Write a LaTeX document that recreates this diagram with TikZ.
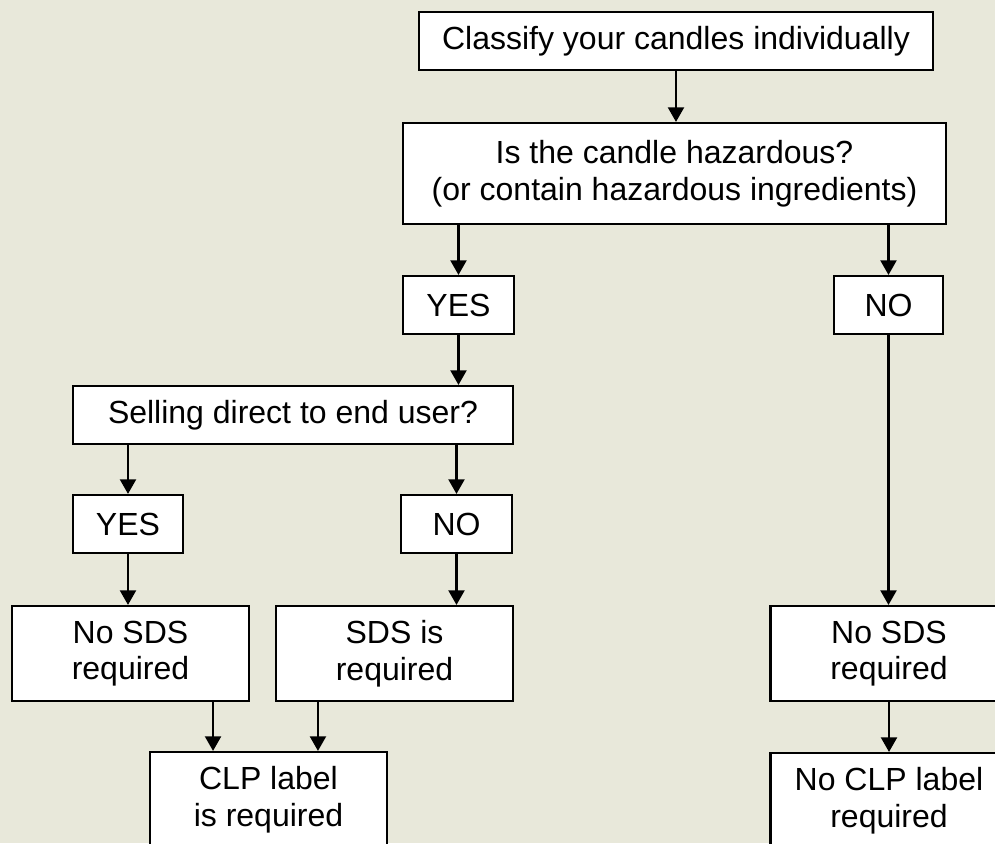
\documentclass[tikz,border=0pt]{standalone}
\usepackage{fontspec}
\setmainfont{Liberation Sans}
\usetikzlibrary{arrows.meta}
\definecolor{parchment}{RGB}{232,232,218}

\begin{document}
\begin{tikzpicture}[
    x=0.75pt,
    y=-0.75pt,
    box/.style={
        rectangle,
        draw=black,
        line width=1.6pt,
        fill=white,
        align=center,
        inner sep=0pt,
        minimum height=43.5pt,
        font=\fontsize{24}{27.5}\selectfont
    },
    tallbox/.style={
        box,
        minimum width=177.75pt,
        minimum height=71.25pt
    },
    arrow/.style={
        line width=1.8pt,
        -{Triangle[length=11pt,width=12pt]}
    }
]

% Fundal
\clip (0,0) rectangle (995,843);
\fill[parchment] (0,0) rectangle (995,843);

% Intrebarile
\node[box, minimum width=385.5pt] (classify) at (676,41) {Classify your candles individually};
\node[box, minimum width=407.25pt, minimum height=75.75pt] (hazard) at (674.5,173.5) {Is the candle hazardous?\\(or contain hazardous ingredients)};
\node[box, minimum width=330pt] (selling) at (293,415) {Selling direct to end user?};

% Raspunsurile
\node[box, minimum width=83.25pt] (yes1) at (458.5,305) {YES};
\node[box, minimum width=81.75pt] (no1) at (888.5,305) {NO};
\node[box, minimum width=82.5pt] (yes2) at (128,524) {YES};
\node[box, minimum width=83.25pt] (no2) at (456.5,524) {NO};

% Rezultatele
\node[tallbox] (nosds1) at (130.5,653.5) {No SDS\\required};
\node[tallbox] (sds) at (394.5,653.5) {SDS is\\required};
\node[tallbox] (clp) at (268.5,799.5) {CLP label\\is required};
\node[tallbox] (nosds2) at (889,653.5) {No SDS\\required};
\node[tallbox] (noclp) at (889,800.5) {No CLP label\\required};

% Sagetile
\draw[arrow] (classify.south) -- (classify.south |- hazard.north);
\draw[arrow] (yes1 |- hazard.south) -- (yes1.north);
\draw[arrow] (no1 |- hazard.south) -- (no1.north);
\draw[arrow] (yes1.south) -- (yes1.south |- selling.north);
\draw[arrow] (yes2 |- selling.south) -- (yes2.north);
\draw[arrow] (no2 |- selling.south) -- (no2.north);
\draw[arrow] (yes2.south) -- (yes2.south |- nosds1.north);
\draw[arrow] (no2.south) -- (no2.south |- sds.north);
\draw[arrow] (no1.south) -- (no1.south |- nosds2.north);
\draw[arrow] (nosds2.south) -- (nosds2.south |- noclp.north);

% Spre eticheta CLP
\coordinate (nosdsout) at ([xshift=61.9pt]nosds1.south);
\coordinate (sdsout) at ([xshift=-57.4pt]sds.south);
\draw[arrow] (nosdsout) -- (nosdsout |- clp.north);
\draw[arrow] (sdsout) -- (sdsout |- clp.north);

\end{tikzpicture}
\end{document}
